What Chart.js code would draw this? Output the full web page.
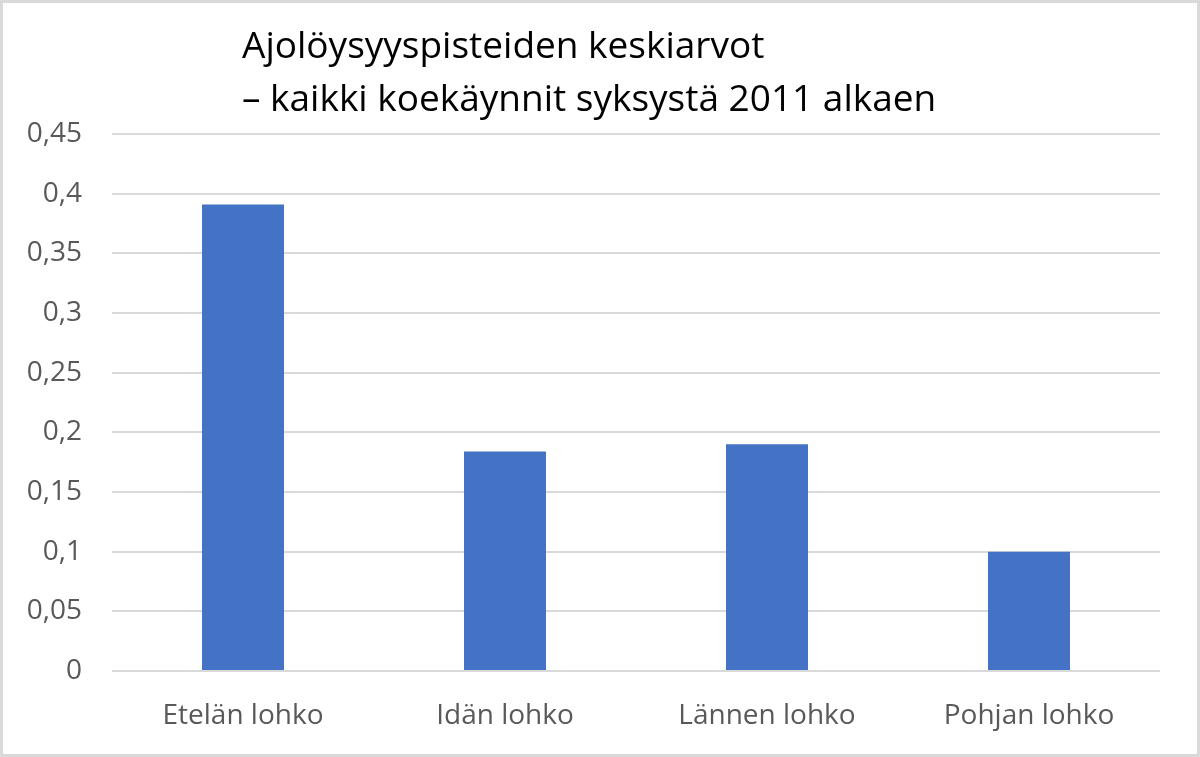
<!DOCTYPE html>
<html>
<head>
<meta charset="utf-8">
<script src="https://cdn.jsdelivr.net/npm/chart.js@4"></script>
<style>
  body { margin: 0; background: #fff; }
  #wrap { width: 1200px; height: 757px; box-sizing: border-box; border: 3px solid #d9d9d9; }
  canvas { display: block; }
</style>
</head>
<body>
<div id="wrap"><canvas id="chart" width="1194" height="751"></canvas></div>
<script>
// Ajolöysyyspisteet
const lohkot = ["Etelän lohko", "Idän lohko", "Lännen lohko", "Pohjan lohko"];
const keskiarvot = [0.391, 0.184, 0.19, 0.1];
const otsikko = ["Ajolöysyyspisteiden keskiarvot", "– kaikki koekäynnit syksystä 2011 alkaen"];

const fontti = "'Open Sans', sans-serif";

// otsikko piirretään itse, jotta se saadaan samaan kohtaan kuin kuvassa
const otsikkoPlugin = {
    id: "otsikko",
    afterDraw(chart) {
        const ctx = chart.ctx;
        ctx.save();
        ctx.fillStyle = "#000";
        ctx.font = "37px " + fontti;
        ctx.textAlign = "left";
        ctx.textBaseline = "middle";
        ctx.fillText(otsikko[0], 239, 44);
        ctx.fillText(otsikko[1], 239, 97);
        ctx.restore();
    }
};

const chart = new Chart(document.getElementById("chart"), {
    type: "bar",
    data: {
        labels: lohkot,
        datasets: [
            {
                label: "Keskiarvo",
                data: keskiarvot,
                backgroundColor: "#4472C4",
                categoryPercentage: 1,
                barPercentage: 0.313,
            },
        ],
    },
    options: {
        responsive: false,
        animation: false,
        devicePixelRatio: 1,
        layout: { padding: { top: 131, right: 37, bottom: 23, left: 0 } },
        plugins: {
            legend: { display: false },
            tooltip: { enabled: false },
        },
        scales: {
            x: {
                afterFit(scale) { scale.height = 60; },
                grid: { display: false, drawTicks: false },
                border: { display: false },
                ticks: { color: "#595959", font: { family: fontti, size: 28 }, padding: 28, maxRotation: 0 },
            },
            y: {
                min: 0,
                max: 0.45,
                afterFit(scale) { scale.width = 109; },
                grid: { color: "#d9d9d9", lineWidth: 2, drawTicks: false },
                border: { display: false },
                ticks: {
                    stepSize: 0.05,
                    color: "#595959",
                    font: { family: fontti, size: 28 },
                    padding: 30,
                    callback: (v) => String(Math.round(v * 100) / 100).replace(".", ","),
                },
            },
        },
    },
    plugins: [otsikkoPlugin],
});
</script>
</body>
</html>
